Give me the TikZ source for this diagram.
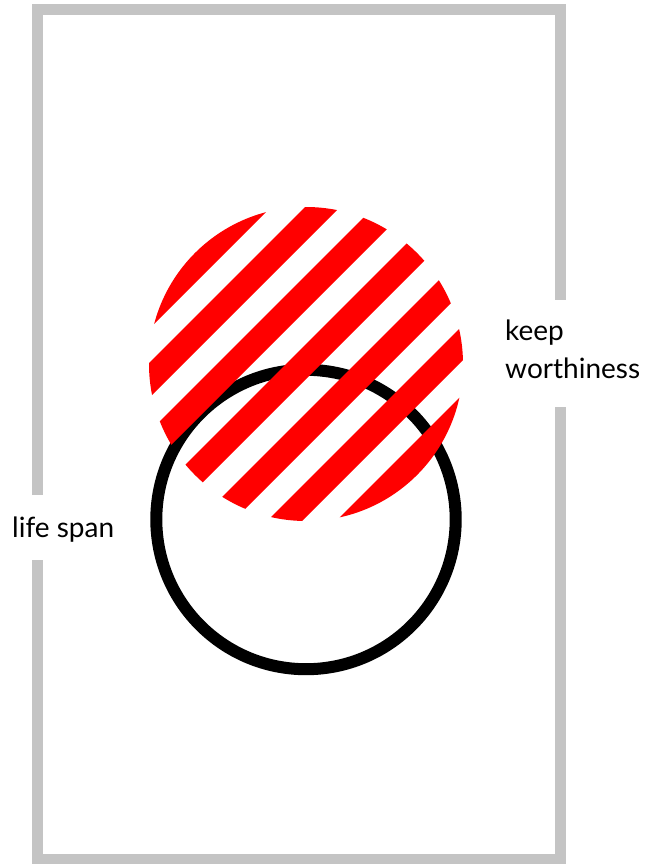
\documentclass[tikz,border=0pt]{standalone}
\usepackage{fontspec}
\setmainfont{Lato}
\definecolor{FrameGray}{RGB}{196,196,196}
\definecolor{StripeRed}{RGB}{255,0,0}
\usetikzlibrary{positioning}

\begin{document}
\begin{tikzpicture}[x=1pt,y=-1pt,
	frameline/.style={FrameGray,line width=11pt},
	sidetext/.style={font=\fontsize{28}{38}\selectfont,inner sep=0pt,anchor=base west,align=left}]
\useasboundingbox (0,0) rectangle (646,864);
% gray frame, open where the texts sit
\draw[frameline] (37.5,495) -- (37.5,9.2) -- (560.5,9.2) -- (560.5,300);
\draw[frameline] (560.5,407) -- (560.5,859.8) -- (37.5,859.8) -- (37.5,560);
% black ring
\draw[black,line width=12pt] (306,519.5) circle (149.7);
% red striped disc
\begin{scope}
\clip (306,364) circle (157);
\foreach \s in {443,512,581,650,719,788,857}{
	\fill[StripeRed] (100,\s-100) -- (600,\s-600) -- (600,\s+35-600) -- (100,\s+35-100) -- cycle;
}
\end{scope}
\node[sidetext] (span) at (12,537) {life span};
\node[sidetext] (keep) at (505,378) {keep\\worthiness};
\end{tikzpicture}
\end{document}
